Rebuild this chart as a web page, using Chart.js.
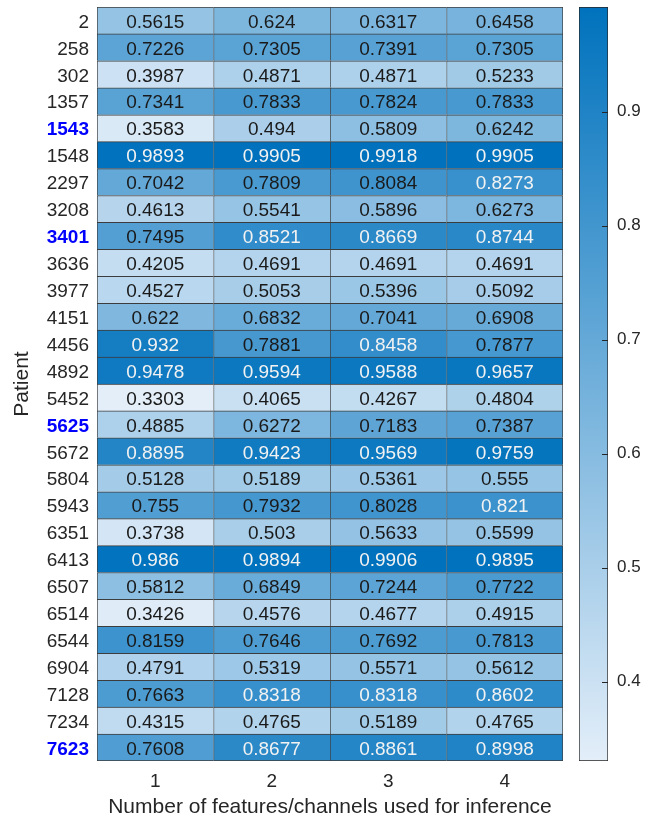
<!DOCTYPE html>
<html>
<head>
<meta charset="utf-8">
<script src="https://cdn.jsdelivr.net/npm/chart.js@4"></script>
<style>
  body { margin: 0; background: #fff; }
  #wrap { position: relative; width: 652px; height: 820px; }
  #heat { position: absolute; left: 0; top: 0; }
  #cbar { position: absolute; left: 570px; top: 0; }
</style>
</head>
<body>
<div id="wrap">
  <canvas id="heat" width="652" height="820"></canvas>
  <canvas id="cbar" width="82" height="820"></canvas>
</div>
<script>
// data
const patients = ['2', '258', '302', '1357', '1543', '1548', '2297', '3208', '3401', '3636', '3977', '4151', '4456', '4892',
    '5452', '5625', '5672', '5804', '5943', '6351', '6413', '6507', '6514', '6544', '6904', '7128', '7234', '7623'];
const highlighted = ['1543', '3401', '5625', '7623'];
const featureCounts = [1, 2, 3, 4];
const f1 = [0.5615, 0.7226, 0.3987, 0.7341, 0.3583, 0.9893, 0.7042, 0.4613, 0.7495, 0.4205, 0.4527, 0.622, 0.932, 0.9478,
    0.3303, 0.4885, 0.8895, 0.5128, 0.755, 0.3738, 0.986, 0.5812, 0.3426, 0.8159, 0.4791, 0.7663, 0.4315, 0.7608];
const f2 = [0.624, 0.7305, 0.4871, 0.7833, 0.494, 0.9905, 0.7809, 0.5541, 0.8521, 0.4691, 0.5053, 0.6832, 0.7881, 0.9594,
    0.4065, 0.6272, 0.9423, 0.5189, 0.7932, 0.503, 0.9894, 0.6849, 0.4576, 0.7646, 0.5319, 0.8318, 0.4765, 0.8677];
const f3 = [0.6317, 0.7391, 0.4871, 0.7824, 0.5809, 0.9918, 0.8084, 0.5896, 0.8669, 0.4691, 0.5396, 0.7041, 0.8458, 0.9588,
    0.4267, 0.7183, 0.9569, 0.5361, 0.8028, 0.5633, 0.9906, 0.7244, 0.4677, 0.7692, 0.5571, 0.8318, 0.5189, 0.8861];
const f4 = [0.6458, 0.7305, 0.5233, 0.7833, 0.6242, 0.9905, 0.8273, 0.6273, 0.8744, 0.4691, 0.5092, 0.6908, 0.7877, 0.9657,
    0.4804, 0.7387, 0.9759, 0.555, 0.821, 0.5599, 0.9895, 0.7722, 0.4915, 0.7813, 0.5612, 0.8602, 0.4765, 0.8998];
const cbTicks = [0.4, 0.5, 0.6, 0.7, 0.8, 0.9];

const columns = [f1, f2, f3, f4];
const allVals = [].concat(f1, f2, f3, f4);
const vmin = Math.min.apply(null, allVals);
const vmax = Math.max.apply(null, allVals);

const FONT = "'Liberation Sans', Arial, sans-serif";
const TEXT = '#262626';
const LO = [227, 238, 249];
const HI = [0, 114, 189];

function colorFor(v) {
    let t = (v - vmin) / (vmax - vmin);
    t = Math.max(0, Math.min(1, t));
    let c = LO.map((lo, i) => Math.round(lo + (HI[i] - lo) * t));
    return 'rgb(' + c.join(',') + ')';
}

// kill the half-label padding chart.js adds above/below a vertical axis
function noEdgePad(scale) {
    scale.paddingTop = 0;
    scale.paddingBottom = 0;
}

// each column is a dataset of floating bars spanning [col-0.5, col+0.5]
const datasets = columns.map(function(vals, ci) {
    let c = featureCounts[ci];
    return {
        label: String(c),
        data: vals.map(() => [c - 0.5, c + 0.5]),
        values: vals,
        backgroundColor: vals.map(colorFor),
        borderColor: '#3c3c3c',
        borderWidth: vals.map((v, ri) => ({
            top: 1, left: 1,
            right: ci === columns.length - 1 ? 1 : 0,
            bottom: ri === vals.length - 1 ? 1 : 0
        })),
        borderSkipped: false,
        grouped: false,
        barPercentage: 1,
        categoryPercentage: 1
    };
});

const cellText = {
    id: 'cellText',
    afterDatasetsDraw(chart) {
        const ctx = chart.ctx;
        ctx.save();
        ctx.font = '19px ' + FONT;
        ctx.textAlign = 'center';
        ctx.textBaseline = 'middle';
        chart.data.datasets.forEach(function(ds, di) {
            chart.getDatasetMeta(di).data.forEach(function(el, i) {
                let v = ds.values[i];
                let p = el.getCenterPoint();
                ctx.fillStyle = v > 0.82 ? '#f2f2f2' : '#1a1a1a';
                ctx.fillText(String(v), p.x, p.y + 2);
            });
        });
        ctx.restore();
    }
};

new Chart(document.getElementById('heat'), {
    type: 'bar',
    data: { labels: patients, datasets: datasets },
    options: {
        indexAxis: 'y',
        responsive: false,
        animation: false,
        layout: { padding: { left: 0, top: 7, right: 89, bottom: 0 } },
        plugins: { legend: { display: false }, tooltip: { enabled: false } },
        scales: {
            x: {
                type: 'linear',
                min: 0.5,
                max: 4.5,
                afterBuildTicks: function(scale) {
                    scale.ticks = featureCounts.map(v => ({ value: v }));
                },
                afterFit: function(scale) { scale.height = 59; },
                grid: { display: false },
                border: { display: false },
                ticks: { color: TEXT, font: { family: FONT, size: 19 }, padding: 1 },
                title: {
                    display: true,
                    text: 'Number of features/channels used for inference',
                    color: TEXT,
                    font: { family: FONT, size: 21 },
                    padding: { top: 0, bottom: 0 }
                }
            },
            y: {
                afterFit: function(scale) { scale.width = 97; noEdgePad(scale); },
                grid: { display: false },
                border: { display: false },
                ticks: {
                    padding: 0,
                    labelOffset: 2,
                    color: ctx => highlighted.includes(patients[ctx.index]) ? '#0000ff' : TEXT,
                    font: ctx => ({
                        family: FONT,
                        size: 19,
                        weight: highlighted.includes(patients[ctx.index]) ? 'bold' : 'normal'
                    })
                },
                title: {
                    display: true,
                    text: 'Patient',
                    color: TEXT,
                    font: { family: FONT, size: 21 },
                    padding: { top: 10, bottom: 0 }
                }
            }
        }
    },
    plugins: [cellText]
});

// colorbar
const cbTickMarks = {
    id: 'cbTickMarks',
    afterDatasetsDraw(chart) {
        const ctx = chart.ctx;
        const y = chart.scales.y;
        const right = chart.chartArea.right;
        ctx.save();
        ctx.strokeStyle = '#262626';
        ctx.lineWidth = 1;
        cbTicks.forEach(function(v) {
            let py = Math.round(y.getPixelForValue(v)) + 0.5;
            ctx.beginPath();
            ctx.moveTo(right - 6, py);
            ctx.lineTo(right, py);
            ctx.stroke();
        });
        ctx.restore();
    }
};

new Chart(document.getElementById('cbar'), {
    type: 'bar',
    data: {
        labels: [''],
        datasets: [{
            data: [[vmin, vmax]],
            backgroundColor: function(context) {
                const area = context.chart.chartArea;
                if (!area) return colorFor(vmax);
                const g = context.chart.ctx.createLinearGradient(0, area.bottom, 0, area.top);
                g.addColorStop(0, colorFor(vmin));
                g.addColorStop(1, colorFor(vmax));
                return g;
            },
            borderColor: '#262626',
            borderWidth: 1,
            borderSkipped: false,
            barPercentage: 1,
            categoryPercentage: 1
        }]
    },
    options: {
        responsive: false,
        animation: false,
        layout: { padding: { left: 9, top: 7, right: 0, bottom: 59 } },
        plugins: { legend: { display: false }, tooltip: { enabled: false } },
        scales: {
            x: { display: false },
            y: {
                position: 'right',
                min: vmin,
                max: vmax,
                afterBuildTicks: function(scale) {
                    scale.ticks = cbTicks.map(v => ({ value: v }));
                },
                afterFit: function(scale) { scale.width = 44; noEdgePad(scale); },
                grid: { display: false },
                border: { display: false },
                ticks: {
                    padding: 1,
                    color: TEXT,
                    font: { family: FONT, size: 17 },
                    callback: v => v.toFixed(1)
                }
            }
        }
    },
    plugins: [cbTickMarks]
});
</script>
</body>
</html>
